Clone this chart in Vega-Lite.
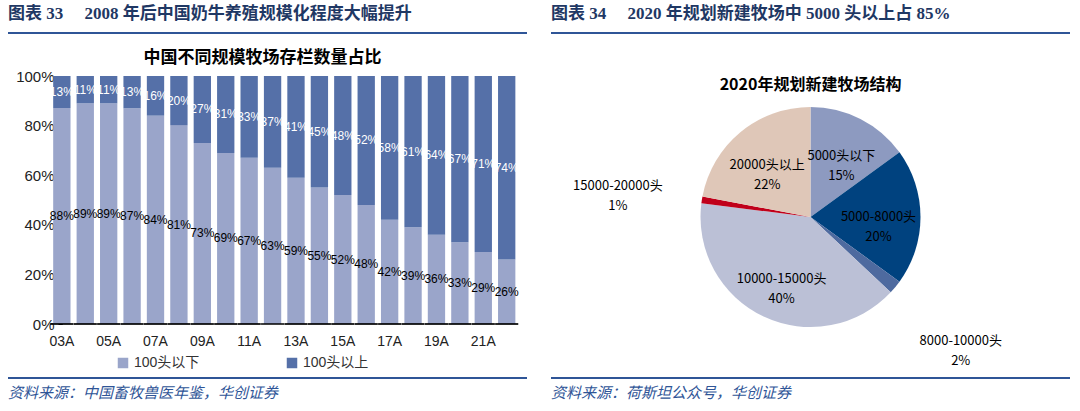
{
  "$schema": "https://vega.github.io/schema/vega-lite/v6.json",
  "padding": {"left": 8, "right": 0, "top": 5, "bottom": 0},
  "background": "white",
  "config": {"view": {"stroke": null}, "font": "Noto Sans CJK SC"},
  "resolve": {"scale": {"color": "independent"}},
  "hconcat": [
    {
      "concat": [
        {
          "concat": [
            {
              "width": 519, "height": 2,
              "data": {"values": [{}]},
              "mark": {"type": "text", "text": ""},
              "encoding": {},
              "view": {"fill": "#2F5597", "stroke": null},
              "title": {"text": "图表 33\u2003 2008 年后中国奶牛养殖规模化程度大幅提升", "anchor": "start", "font": "Liberation Serif, Noto Sans CJK SC", "fontSize": 17, "fontWeight": "bold", "color": "#1F3864", "offset": 4}
            },
            {
              "width": 509, "height": 248,
              "title": {"text": "中国不同规模牧场存栏数量占比", "font": "Noto Sans CJK SC", "fontSize": 17, "fontWeight": "bold", "color": "#000000", "offset": 2},
              "data": {"values": [
                {"year": "03A", "group": "100头以下", "value": 88}, {"year": "03A", "group": "100头以上", "value": 13},
                {"year": "04A", "group": "100头以下", "value": 89}, {"year": "04A", "group": "100头以上", "value": 11},
                {"year": "05A", "group": "100头以下", "value": 89}, {"year": "05A", "group": "100头以上", "value": 11},
                {"year": "06A", "group": "100头以下", "value": 87}, {"year": "06A", "group": "100头以上", "value": 13},
                {"year": "07A", "group": "100头以下", "value": 84}, {"year": "07A", "group": "100头以上", "value": 16},
                {"year": "08A", "group": "100头以下", "value": 81}, {"year": "08A", "group": "100头以上", "value": 20},
                {"year": "09A", "group": "100头以下", "value": 73}, {"year": "09A", "group": "100头以上", "value": 27},
                {"year": "10A", "group": "100头以下", "value": 69}, {"year": "10A", "group": "100头以上", "value": 31},
                {"year": "11A", "group": "100头以下", "value": 67}, {"year": "11A", "group": "100头以上", "value": 33},
                {"year": "12A", "group": "100头以下", "value": 63}, {"year": "12A", "group": "100头以上", "value": 37},
                {"year": "13A", "group": "100头以下", "value": 59}, {"year": "13A", "group": "100头以上", "value": 41},
                {"year": "14A", "group": "100头以下", "value": 55}, {"year": "14A", "group": "100头以上", "value": 45},
                {"year": "15A", "group": "100头以下", "value": 52}, {"year": "15A", "group": "100头以上", "value": 48},
                {"year": "16A", "group": "100头以下", "value": 48}, {"year": "16A", "group": "100头以上", "value": 52},
                {"year": "17A", "group": "100头以下", "value": 42}, {"year": "17A", "group": "100头以上", "value": 58},
                {"year": "18A", "group": "100头以下", "value": 39}, {"year": "18A", "group": "100头以上", "value": 61},
                {"year": "19A", "group": "100头以下", "value": 36}, {"year": "19A", "group": "100头以上", "value": 64},
                {"year": "20A", "group": "100头以下", "value": 33}, {"year": "20A", "group": "100头以上", "value": 67},
                {"year": "21A", "group": "100头以下", "value": 29}, {"year": "21A", "group": "100头以上", "value": 71},
                {"year": "22A", "group": "100头以下", "value": 26}, {"year": "22A", "group": "100头以上", "value": 74}
              ]},
              "transform": [
                {"stack": "value", "groupby": ["year"], "sort": [{"field": "group", "order": "descending"}], "offset": "normalize", "as": ["y0", "y1"]},
                {"calculate": "(datum.y0 + datum.y1) / 2", "as": "ym"},
                {"calculate": "datum.value + '%'", "as": "label"}
              ],
              "encoding": {
                "x": {"field": "year", "type": "ordinal", "scale": {"paddingInner": 0.26, "paddingOuter": 1.27, "align": 0.965},
                  "axis": {"values": ["03A", "05A", "07A", "09A", "11A", "13A", "15A", "17A", "19A", "21A"], "labelAngle": 0, "labelFontSize": 14, "labelFont": "Liberation Sans", "labelColor": "#222222", "title": null, "ticks": false, "domain": false, "labelPadding": 10}}
              },
              "layer": [
                {
                  "mark": {"type": "bar"},
                  "encoding": {
                    "y": {"field": "y0", "type": "quantitative", "scale": {"domain": [0, 1]},
                      "axis": {"values": [0, 0.2, 0.4, 0.6, 0.8, 1], "format": ".0%", "offset": -54, "labelFontSize": 15, "labelFont": "Liberation Sans", "labelColor": "#222222", "domainColor": "#000000", "tickColor": "#000000", "tickSize": 4, "grid": false, "title": null, "labelPadding": 4}},
                    "y2": {"field": "y1"},
                    "color": {"field": "group", "type": "nominal", "scale": {"domain": ["100头以下", "100头以上"], "range": ["#9AA5CA", "#5570A8"]},
                      "legend": {"orient": "none", "legendX": 108, "legendY": 324, "direction": "horizontal", "title": null, "symbolType": "square", "symbolSize": 110, "labelFontSize": 14, "labelFont": "Liberation Sans, Noto Sans CJK SC", "labelColor": "#333333", "columnPadding": 85}}
                  }
                },
                {
                  "mark": {"type": "tick", "color": "#000000", "thickness": 1.2, "size": 23, "opacity": 1},
                  "encoding": {
                    "y": {"datum": 0}
                  }
                },
                {
                  "mark": {"type": "text", "fontSize": 12, "font": "Liberation Sans"},
                  "encoding": {
                    "y": {"field": "ym", "type": "quantitative"},
                    "text": {"field": "label"},
                    "color": {"condition": {"test": "datum.group === '100头以上'", "value": "#ffffff"}, "value": "#000000"}
                  }
                }
              ]
            }
          ],
          "columns": 1, "align": "none", "spacing": 11
        },
        {
          "width": 519, "height": 2,
          "data": {"values": [{}]},
          "mark": {"type": "text", "text": ""},
          "encoding": {},
          "view": {"fill": "#2F5597", "stroke": null},
          "title": {"text": "资料来源：中国畜牧兽医年鉴，华创证券", "orient": "bottom", "anchor": "start", "font": "Noto Sans CJK SC", "fontSize": 15, "fontStyle": "italic", "fontWeight": "normal", "color": "#2F5597", "offset": 3}
        }
      ],
      "columns": 1, "align": "none", "spacing": 24
    },
    {
      "concat": [
        {
          "concat": [
            {
              "width": 519, "height": 2,
              "data": {"values": [{}]},
              "mark": {"type": "text", "text": ""},
              "encoding": {},
              "view": {"fill": "#2F5597", "stroke": null},
              "title": {"text": "图表 34\u2003 2020 年规划新建牧场中 5000 头以上占 85%", "anchor": "start", "font": "Liberation Serif, Noto Sans CJK SC", "fontSize": 17, "fontWeight": "bold", "color": "#1F3864", "offset": 4}
            },
            {
              "width": 519, "height": 220,
              "title": {"text": "2020年规划新建牧场结构", "font": "Noto Sans CJK SC", "fontSize": 16, "fontWeight": "bold", "color": "#000000", "offset": 14},
              "data": {"values": [
                {"name": "5000头以下", "pct": 15, "idx": 1},
                {"name": "5000-8000头", "pct": 20, "idx": 2},
                {"name": "8000-10000头", "pct": 2, "idx": 3},
                {"name": "10000-15000头", "pct": 40, "idx": 4},
                {"name": "15000-20000头", "pct": 1, "idx": 5},
                {"name": "20000头以上", "pct": 22, "idx": 6}
              ]},
              "layer": [
                {
                  "mark": {"type": "arc", "outerRadius": 110},
                  "encoding": {
                    "theta": {"field": "pct", "type": "quantitative", "stack": true, "scale": {"domain": [0, 100]}},
                    "order": {"field": "idx", "type": "quantitative"},
                    "color": {"field": "name", "type": "nominal",
                      "scale": {"domain": ["5000头以下", "5000-8000头", "8000-10000头", "10000-15000头", "15000-20000头", "20000头以上"], "range": ["#8D9AC0", "#00427F", "#4E6A9F", "#BBC0D6", "#C0001A", "#DFC7B8"]},
                      "legend": null}
                  }
                },
                {
                  "transform": [
                    {"stack": "pct", "groupby": [], "sort": [{"field": "idx", "order": "ascending"}], "as": ["t0", "t1"]},
                    {"calculate": "(datum.t0 + datum.t1) / 2", "as": "tm"},
                    {"calculate": "datum.name + '\\n' + datum.pct + '%'", "as": "label"},
                    {"filter": "datum.pct >= 5"}
                  ],
                  "mark": {"type": "text", "radius": 68, "fontSize": 13, "lineBreak": "\n", "lineHeight": 20, "font": "Noto Sans CJK SC", "color": "#000000"},
                  "encoding": {
                    "theta": {"field": "tm", "type": "quantitative", "stack": false},
                    "text": {"field": "label"}
                  }
                },
                {
                  "transform": [
                    {"stack": "pct", "groupby": [], "sort": [{"field": "idx", "order": "ascending"}], "as": ["t0", "t1"]},
                    {"calculate": "(datum.t0 + datum.t1) / 2", "as": "tm"},
                    {"calculate": "datum.name + '\\n' + datum.pct + '%'", "as": "label"},
                    {"filter": "datum.pct < 5"}
                  ],
                  "mark": {"type": "text", "radius": 195, "fontSize": 13, "lineBreak": "\n", "lineHeight": 20, "font": "Noto Sans CJK SC", "color": "#000000"},
                  "encoding": {
                    "theta": {"field": "tm", "type": "quantitative", "stack": false},
                    "text": {"field": "label"}
                  }
                }
              ]
            }
          ],
          "columns": 1, "align": "none", "spacing": 39
        },
        {
          "width": 519, "height": 2,
          "data": {"values": [{}]},
          "mark": {"type": "text", "text": ""},
          "encoding": {},
          "view": {"fill": "#2F5597", "stroke": null},
          "title": {"text": "资料来源：荷斯坦公众号，华创证券", "orient": "bottom", "anchor": "start", "font": "Noto Sans CJK SC", "fontSize": 15, "fontStyle": "italic", "fontWeight": "normal", "color": "#2F5597", "offset": 3}
        }
      ],
      "columns": 1, "align": "none", "spacing": 3
    }
  ],
  "spacing": 24
}
